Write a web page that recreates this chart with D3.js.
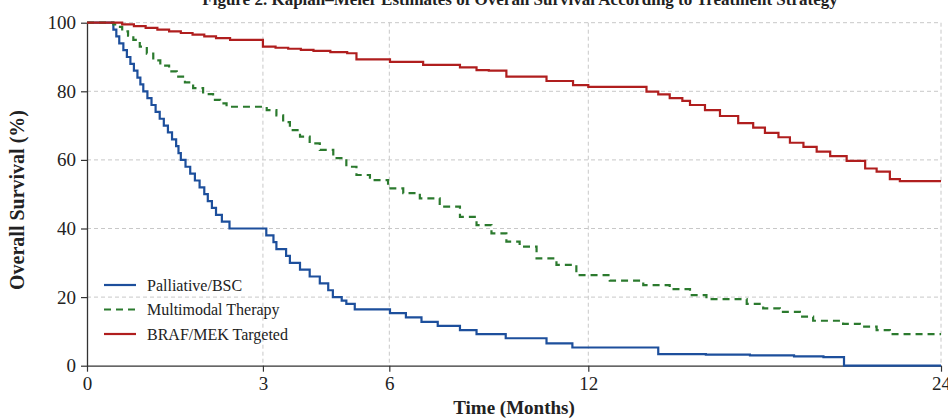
<!DOCTYPE html>
<html lang="en">
<head>
    <meta charset="UTF-8">
    <title>Overall Survival by Treatment</title>
    <script src="https://d3js.org/d3.v7.min.js"></script>
    <style>
        body { margin: 0; background: #fff; }
        text { font-family: "Liberation Serif", "DejaVu Serif", serif; fill: #222; }
    </style>
</head>
<body>
    <svg width="948" height="419"></svg>
    <script>
        // step points: [time in months, survival % from that time on]
        var palliative = [
            [0, 100], [0.45, 98], [0.50, 96], [0.55, 94], [0.62, 92], [0.68, 90], [0.74, 88],
            [0.80, 86], [0.86, 84], [0.91, 82], [0.96, 80], [1.03, 78], [1.10, 76], [1.17, 74],
            [1.24, 72], [1.31, 70], [1.38, 68], [1.45, 66], [1.52, 64], [1.56, 62], [1.60, 60],
            [1.68, 58], [1.76, 56], [1.84, 54], [1.92, 52], [2.00, 50], [2.06, 48], [2.13, 46],
            [2.20, 44], [2.30, 42], [2.43, 40], [3.08, 38], [3.25, 36], [3.32, 34], [3.55, 32],
            [3.64, 30], [3.88, 28], [4.11, 26], [4.35, 24], [4.55, 22], [4.66, 20], [4.87, 19],
            [4.98, 18], [5.18, 16.4], [6.02, 15.3], [6.50, 14.1], [6.97, 12.8], [7.46, 11.6],
            [8.13, 10.4], [8.63, 9.2], [9.51, 8.0], [10.74, 6.5], [11.52, 5.3], [14.38, 3.4],
            [16.0, 3.2], [17.5, 3.0], [19.0, 2.7], [20.0, 2.5], [20.70, 0], [24, 0]
        ];
        var multimodal = [
            [0, 100], [0.45, 99.5], [0.48, 98.8], [0.60, 97.5], [0.70, 96.2], [0.79, 95],
            [0.90, 93], [1.02, 91], [1.13, 89], [1.25, 87.5], [1.40, 85.8], [1.53, 84.3],
            [1.67, 82.6], [1.81, 80.9], [1.98, 79.2], [2.15, 77.5], [2.27, 76.5], [2.38, 75.5],
            [3.09, 74.5], [3.32, 73], [3.48, 71], [3.64, 68.7], [3.88, 66.8], [4.11, 64.8],
            [4.35, 62.9], [4.67, 60.5], [4.98, 58], [5.22, 55.6], [5.54, 54.1], [5.97, 51.7],
            [6.42, 50.3], [6.92, 48.8], [7.52, 46.4], [8.13, 43.4], [8.63, 41], [9.08, 38.6],
            [9.53, 36.2], [9.93, 34.7], [10.44, 31.3], [11.04, 29.4], [11.64, 26.4],
            [12.73, 24.8], [13.87, 23.5], [14.77, 22.3], [15.46, 20.6], [16.02, 19.4],
            [17.39, 18], [17.95, 16.7], [18.52, 15.7], [19.20, 14.3], [19.65, 13.1],
            [20.67, 12.2], [21.24, 11.4], [21.81, 10.4], [22.26, 9.2], [24, 9.2]
        ];
        var targeted = [
            [0, 100], [0.45, 100], [0.6, 99.5], [0.8, 99], [1.0, 98.5], [1.2, 98], [1.4, 97.5],
            [1.6, 97], [1.8, 96.5], [2.0, 96], [2.2, 95.5], [2.44, 95], [3.0, 93], [3.3, 92.7],
            [3.6, 92.4], [3.9, 92.1], [4.2, 91.8], [4.6, 91.4], [5.0, 91.1], [5.22, 89.3],
            [6.02, 88.6], [7.02, 87.7], [8.13, 87], [8.63, 86.2], [9.0, 86], [9.53, 84.3],
            [10.74, 83], [11.54, 81.8], [12.0, 81.3], [13.98, 79.9], [14.38, 79.1], [14.77, 78],
            [15.2, 77.2], [15.46, 76], [15.97, 74.5], [16.48, 72.8], [17.10, 70.7], [17.61, 69.4],
            [18.01, 67.9], [18.47, 66.6], [18.86, 65], [19.32, 63.8], [19.77, 62.4], [20.23, 61.1],
            [20.79, 59.7], [21.42, 57.5], [21.81, 56.6], [22.26, 54.4], [22.6, 53.8], [24, 53.8]
        ];

        var seriesNames = ["Palliative/BSC", "Multimodal Therapy", "BRAF/MEK Targeted"];
        var seriesData = [palliative, multimodal, targeted];
        var seriesColors = ["#1d4f9c", "#2b7a2e", "#b01e1e"];
        var seriesDash = [null, "7,5", null];

        var xTicks = [0, 3, 6, 12, 24];
        var yTicks = [0, 20, 40, 60, 80, 100];

        var svg = d3.select("svg");
        var plotLeft = 87, plotRight = 941, plotTop = 22.7, plotBottom = 365.7;

        // the time axis is stretched at the start; ticks sit at these fractions of the width
        var xFrac = [0, 0.206, 0.354, 0.587, 1];
        var x = d3.scaleLinear()
            .domain(xTicks)
            .range(xFrac.map(function(f) { return plotLeft + f * (plotRight - plotLeft); }));
        var y = d3.scaleLinear().domain([0, 100]).range([plotBottom, plotTop]);

        // title, mostly cut off at the top edge
        svg.append("text")
            .attr("x", 520).attr("y", 4.5)
            .attr("text-anchor", "middle")
            .style("font-size", "17px").style("font-weight", "bold")
            .text("Figure 2. Kaplan–Meier Estimates of Overall Survival According to Treatment Strategy");

        // grid
        svg.append("g").selectAll("line")
            .data(yTicks.filter(function(d) { return d > 0; }))
            .enter().append("line")
            .attr("x1", plotLeft).attr("x2", plotRight)
            .attr("y1", function(d) { return y(d); })
            .attr("y2", function(d) { return y(d); })
            .style("stroke", "#c8c8c8").style("stroke-dasharray", "4,3");
        svg.append("g").selectAll("line")
            .data(xTicks.filter(function(d) { return d > 0; }))
            .enter().append("line")
            .attr("y1", plotTop).attr("y2", plotBottom)
            .attr("x1", function(d) { return x(d); })
            .attr("x2", function(d) { return x(d); })
            .style("stroke", "#c8c8c8").style("stroke-dasharray", "4,3");

        // axes
        var xAxis = svg.append("g")
            .attr("transform", "translate(0," + plotBottom + ")")
            .call(d3.axisBottom(x).tickValues(xTicks).tickSize(6).tickSizeOuter(0).tickPadding(5));
        var yAxis = svg.append("g")
            .attr("transform", "translate(" + plotLeft + ",0)")
            .call(d3.axisLeft(y).tickValues(yTicks).tickSize(6).tickSizeOuter(0).tickPadding(5));
        [xAxis, yAxis].forEach(function(a) {
            a.select(".domain").style("stroke", "#333").style("stroke-width", 1.3);
            a.selectAll(".tick line").style("stroke", "#333").style("stroke-width", 1.2);
            a.selectAll(".tick text")
                .style("font-family", "'Liberation Serif', serif")
                .style("font-size", "19px").style("fill", "#222");
        });

        svg.append("text")
            .attr("x", 514).attr("y", 414)
            .attr("text-anchor", "middle")
            .style("font-size", "19px").style("font-weight", "bold")
            .text("Time (Months)");
        svg.append("text")
            .attr("transform", "translate(24,200) rotate(-90)")
            .attr("text-anchor", "middle")
            .style("font-size", "20px").style("font-weight", "bold")
            .text("Overall Survival (%)");

        // curves
        var line = d3.line()
            .x(function(d) { return x(d[0]); })
            .y(function(d) { return y(d[1]); })
            .curve(d3.curveStepAfter);

        svg.append("g").selectAll("path")
            .data(seriesData)
            .enter().append("path")
            .attr("d", line)
            .style("fill", "none")
            .style("stroke", function(d, i) { return seriesColors[i]; })
            .style("stroke-width", 2.2)
            .style("stroke-dasharray", function(d, i) { return seriesDash[i]; });

        // legend
        var legend = svg.append("g").attr("transform", "translate(104,285)");
        var item = legend.selectAll("g")
            .data(seriesNames)
            .enter().append("g")
            .attr("transform", function(d, i) { return "translate(0," + (i * 24.5) + ")"; });
        item.append("line")
            .attr("x1", 0).attr("x2", 32)
            .style("stroke", function(d, i) { return seriesColors[i]; })
            .style("stroke-width", 2.2)
            .style("stroke-dasharray", function(d, i) { return seriesDash[i]; });
        item.append("text")
            .attr("x", 43).attr("y", 5.5)
            .style("font-size", "16px")
            .text(function(d) { return d; });
    </script>
</body>
</html>
